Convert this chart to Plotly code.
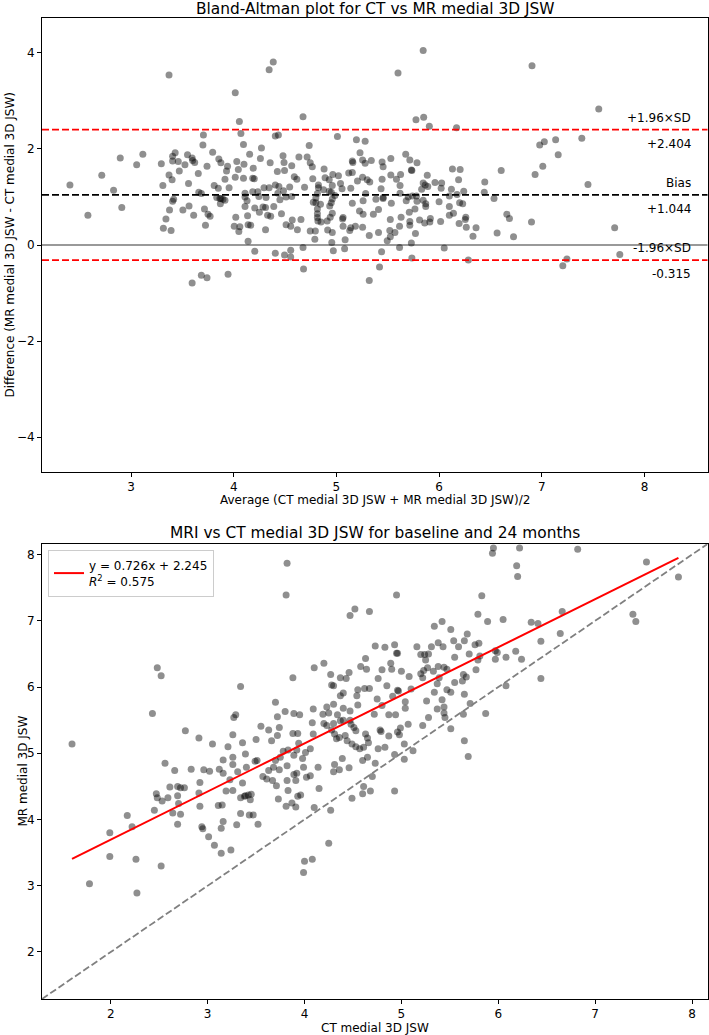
import numpy as np
import plotly.graph_objects as go

# ---------------- data ----------------
# CT and MR medial 3D JSW per knee (same measurements feed both panels)
ct_a = [3.82,3.81,2.48,2.52,3.34,2.43,1.60,4.10,3.88,3.70,
        4.09,3.29,3.27,3.72,3.80,3.89,3.95,4.08,2.77,2.91,
        3.05,3.26,3.36,3.21,3.50,3.55,3.63,3.66,3.74,3.72,
        3.88,3.93,3.94,3.92,4.09,3.39,3.26,3.16,3.78,3.83,
        3.89,4.01,4.06,3.51,3.70,3.75,3.98,2.56,2.66,2.83,
        2.96,3.02,3.12,3.16,3.26,3.31,3.40,3.49,3.57,3.63,
        3.68,3.74,3.82,3.89,3.92,3.99,4.14,4.06,2.92,2.61,
        2.69,2.72,2.76,3.23,3.19,3.26,3.36,3.38,3.42,3.45,
        3.61,3.67,3.71,3.82,3.91,3.83,4.02,4.15,2.47,2.48,
        2.53,2.59,2.69,2.70,2.91,2.92,3.11,3.15,3.34,3.39,
        3.44,3.73,3.81,3.87,3.91,3.93,3.96,4.10,2.45,2.64,
        2.72,2.17,2.69,3.34,3.43,3.47,3.52,3.30,3.16,2.94,
        2.95,1.99,2.22,3.01,3.14,3.07,3.24,3.14,1.99,2.26,
        4.00,4.08,3.99,2.52,1.78,2.27]
mr_a = [7.87,7.39,6.29,6.17,6.01,5.60,5.14,6.29,6.14,5.77,
        5.67,5.58,5.54,5.55,5.63,5.60,5.58,5.46,5.34,5.23,
        5.14,5.28,5.16,5.10,5.21,5.41,5.35,5.19,5.39,5.27,
        5.30,5.30,5.15,5.05,5.29,4.99,4.94,4.90,5.03,5.05,
        4.97,5.01,5.07,4.89,4.89,4.94,4.92,4.85,4.74,4.76,
        4.75,4.73,4.76,4.70,4.83,4.72,4.79,4.88,4.65,4.74,
        4.79,4.75,4.81,4.68,4.70,4.79,4.79,4.66,4.56,4.49,
        4.50,4.48,4.48,4.60,4.43,4.44,4.55,4.35,4.37,4.38,
        4.61,4.59,4.51,4.59,4.59,4.44,4.64,4.47,4.39,4.33,
        4.28,4.33,4.36,4.24,4.40,4.20,4.21,4.22,4.33,4.36,
        4.30,4.31,4.20,4.25,4.19,4.35,4.37,4.18,4.14,4.10,
        4.08,4.06,3.93,4.09,4.07,4.07,3.93,3.92,3.97,3.89,
        3.86,3.80,3.89,3.74,3.87,3.61,3.54,3.49,3.44,3.40,
        3.37,3.40,3.20,3.30,3.03,2.89]

ct_b = [4.95,4.52,4.47,4.67,5.34,5.42,5.51,5.54,5.59,5.38,
        5.31,5.43,4.73,4.83,4.93,5.16,4.95,4.96,5.20,5.24,
        5.25,5.28,4.63,4.20,4.58,4.64,4.80,4.89,4.90,5.00,
        5.23,5.27,5.33,5.38,5.47,5.44,5.55,4.27,4.37,4.43,
        4.46,5.08,4.76,4.28,4.30,4.40,4.37,4.55,4.62,4.67,
        4.85,4.96,4.97,5.10,5.20,5.22,5.39,5.37,5.47,5.51,
        5.55,4.54,4.75,4.91,5.04,5.04,5.26,5.34,5.42,5.44,
        5.44,5.45,4.47,4.40,4.30,4.23,4.55,4.80,4.87,4.94,
        4.72,5.37,5.28,5.22,4.19,4.25,4.34,4.20,4.23,4.30,
        4.37,4.40,4.47,4.48,4.51,4.53,4.28,4.31,4.33,4.36,
        4.42,4.44,4.49,4.53,4.57,4.61,4.63,4.65,4.66,4.78,
        4.79,4.87,4.96,4.99,4.98,5.07,5.03,5.12,4.93,5.03,
        4.76,4.83,4.73,4.65,4.60,4.39,4.31,4.30,4.36,4.46,
        4.70,4.61,4.60,4.68,4.49,4.93,4.27,4.25]
mr_b = [7.39,7.18,7.08,7.14,6.92,6.99,6.87,6.70,6.61,6.67,
        6.61,6.61,6.62,6.60,6.64,6.61,6.51,6.51,6.49,6.49,
        6.41,6.50,6.43,6.36,6.31,6.27,6.26,6.36,6.27,6.24,
        6.25,6.29,6.24,6.31,6.27,6.30,6.45,6.19,6.14,6.13,
        6.22,6.16,6.13,6.03,6.02,5.91,5.87,5.96,5.98,5.98,
        6.02,5.95,5.94,5.97,6.20,6.14,6.14,6.05,5.96,5.92,
        6.07,5.87,5.82,5.86,5.78,5.68,5.79,5.92,5.81,5.70,
        5.61,5.54,5.64,5.68,5.74,5.70,5.73,5.72,5.58,5.58,
        5.59,5.67,5.54,5.42,5.59,5.61,5.58,5.45,5.42,5.45,
        5.49,5.50,5.50,5.44,5.39,5.34,5.35,5.29,5.22,5.24,
        5.27,5.19,5.14,5.10,5.07,5.09,5.29,5.23,5.16,5.35,
        5.33,5.26,5.32,5.38,5.28,5.44,5.14,5.04,4.98,4.91,
        5.07,5.09,4.85,4.94,4.89,4.92,4.83,4.72,4.75,4.78,
        4.65,4.50,4.39,4.43,4.32,4.43,4.14,3.64]

ct_c = [5.95,5.94,6.22,6.82,6.19,6.20,7.53,7.86,5.83,5.79,
        5.89,6.05,6.34,6.41,6.66,7.39,7.42,5.68,5.65,5.76,
        5.80,5.70,5.81,5.79,5.97,5.99,5.97,6.08,6.18,6.24,
        6.44,6.64,5.77,5.64,5.67,5.63,5.65,5.71,5.64,5.87,
        6.08,6.44,5.65,5.69,5.51,5.04,6.14,6.28,6.04]
mr_c = [8.10,8.02,8.10,8.08,7.83,7.67,7.89,7.66,7.38,7.10,
        6.99,7.02,6.98,6.96,7.14,7.10,6.99,6.80,6.70,6.64,
        6.66,6.50,6.47,6.41,6.55,6.52,6.42,6.45,6.54,6.42,
        6.69,6.81,6.26,6.19,6.15,6.09,5.89,5.75,5.59,5.60,
        6.02,6.13,5.19,4.95,5.37,8.77,8.97,8.50,8.23]

# summary values printed on the chart
bias = 1.044
loa_upper = 2.404
loa_lower = -0.315
slope = 0.726
intercept = 2.245
r_squared = 0.575

top_x_ticks = [3, 4, 5, 6, 7, 8]
top_y_ticks = [-4, -2, 0, 2, 4]
bot_ticks = [2, 3, 4, 5, 6, 7, 8]
top_x_range = [2.133, 8.614]
top_y_range = [-4.72, 4.72]
bot_range = [1.29, 8.16]

# ---------------- derived ----------------
ct = np.array(ct_a + ct_b + ct_c)
mr = np.array(mr_a + mr_b + mr_c)
avg = (ct + mr) / 2.0
diff = mr - ct

W, H = 709, 1035
FONT = "DejaVu Sans"
dom_x = [42 / W, 707.5 / W]
dom_y_top = [1 - 471.7 / H, 1 - 18.3 / H]
dom_y_bot = [1 - 999 / H, 1 - 544 / H]

marker = dict(size=7, color="rgba(0,0,0,0.44)", line=dict(width=0))

fig = go.Figure()

# top: Bland-Altman
fig.add_trace(go.Scatter(x=avg, y=diff, mode="markers", marker=marker,
                         xaxis="x", yaxis="y", showlegend=False, hoverinfo="skip"))

# bottom: MR vs CT
fig.add_trace(go.Scatter(x=ct, y=mr, mode="markers", marker=marker,
                         xaxis="x2", yaxis="y2", showlegend=False, hoverinfo="skip"))
fig.add_trace(go.Scatter(x=bot_range, y=bot_range, mode="lines",
                         line=dict(color="gray", width=1.8, dash="7px,3px"),
                         xaxis="x2", yaxis="y2", showlegend=False, hoverinfo="skip"))
fx = np.array([ct.min(), ct.max()])
fig.add_trace(go.Scatter(x=fx, y=slope * fx + intercept, mode="lines",
                         line=dict(color="red", width=2),
                         name=f"y = {slope:.3f}x + {intercept:.3f}<br><i>R</i><sup>2</sup> = {r_squared:.3f}",
                         xaxis="x2", yaxis="y2", showlegend=True, hoverinfo="skip"))

# horizontal reference lines (top panel)
shapes = [
    dict(type="line", xref="x domain", yref="y", x0=0, x1=1, y0=0, y1=0,
         line=dict(color="rgba(0,0,0,0.8)", width=1)),
    dict(type="line", xref="x domain", yref="y", x0=0, x1=1, y0=bias, y1=bias,
         line=dict(color="black", width=1.8, dash="7px,3px")),
    dict(type="line", xref="x domain", yref="y", x0=0, x1=1, y0=loa_upper, y1=loa_upper,
         line=dict(color="red", width=1.8, dash="7px,3px")),
    dict(type="line", xref="x domain", yref="y", x0=0, x1=1, y0=loa_lower, y1=loa_lower,
         line=dict(color="red", width=1.8, dash="7px,3px")),
]

def lab(text, yval, shift):
    return dict(text=text, xref="x domain", yref="y", x=0.978, y=yval,
                xanchor="right", yanchor="middle", yshift=shift, showarrow=False,
                font=dict(family=FONT, size=12, color="black"))

TITLE_SIZE = 15.4
annotations = [
    lab("+1.96×SD", loa_upper, 12), lab(f"+{loa_upper:.3f}", loa_upper, -14),
    lab("Bias", bias, 12), lab(f"+{bias:.3f}", bias, -14),
    lab("-1.96×SD", loa_lower, 12), lab(f"{loa_lower:.3f}", loa_lower, -14),
    dict(text="Bland-Altman plot for CT vs MR medial 3D JSW", xref="paper", yref="paper",
         x=(dom_x[0] + dom_x[1]) / 2, y=1 - 9.5 / H, xanchor="center", yanchor="middle",
         showarrow=False, font=dict(family=FONT, size=TITLE_SIZE, color="black")),
    dict(text="MRI vs CT medial 3D JSW for baseline and 24 months", xref="paper", yref="paper",
         x=(dom_x[0] + dom_x[1]) / 2, y=1 - 533 / H, xanchor="center", yanchor="middle",
         showarrow=False, font=dict(family=FONT, size=TITLE_SIZE, color="black")),
    dict(text="Average (CT medial 3D JSW + MR medial 3D JSW)/2", xref="paper", yref="paper",
         x=(dom_x[0] + dom_x[1]) / 2, y=1 - 500 / H, xanchor="center", yanchor="middle",
         showarrow=False, font=dict(family=FONT, size=12, color="black")),
    dict(text="Difference (MR medial 3D JSW - CT medial 3D JSW)", xref="paper", yref="paper",
         x=9.5 / W, y=1 - 245 / H, xanchor="center", yanchor="middle", textangle=-90,
         showarrow=False, font=dict(family=FONT, size=12, color="black")),
    dict(text="CT medial 3D JSW", xref="paper", yref="paper",
         x=(dom_x[0] + dom_x[1]) / 2, y=1 - 1027.5 / H, xanchor="center", yanchor="middle",
         showarrow=False, font=dict(family=FONT, size=12, color="black")),
    dict(text="MR medial 3D JSW", xref="paper", yref="paper",
         x=22 / W, y=1 - 771.5 / H, xanchor="center", yanchor="middle", textangle=-90,
         showarrow=False, font=dict(family=FONT, size=12, color="black")),
]

ax_common = dict(showline=True, linecolor="black", linewidth=1, mirror=True,
                 ticks="outside", ticklen=4, tickwidth=1, tickcolor="black",
                 showgrid=False, zeroline=False, automargin=False,
                 tickfont=dict(family=FONT, size=12, color="black"))

fig.update_layout(
    width=W, height=H,
    margin=dict(l=0, r=0, t=0, b=0, autoexpand=False),
    paper_bgcolor="white", plot_bgcolor="white",
    font=dict(family=FONT, size=12, color="black"),
    xaxis=dict(domain=dom_x, range=top_x_range, tickvals=top_x_ticks, anchor="y", **ax_common),
    yaxis=dict(domain=dom_y_top, range=top_y_range, tickvals=top_y_ticks, anchor="x", **ax_common),
    xaxis2=dict(domain=dom_x, range=bot_range, tickvals=bot_ticks, anchor="y2", **ax_common),
    yaxis2=dict(domain=dom_y_bot, range=bot_range, tickvals=bot_ticks, anchor="x2", **ax_common),
    shapes=shapes,
    annotations=annotations,
    legend=dict(x=48 / W, y=1 - 550 / H, xanchor="left", yanchor="top",
                bgcolor="rgba(255,255,255,0.8)", bordercolor="#cccccc", borderwidth=1,
                itemwidth=30,
                font=dict(family=FONT, size=12, color="black"), tracegroupgap=0),
    showlegend=True,
)

# remove the browser's default 8px page margin so the figure sits at the window origin
fig.write_html("out.html", config={"displayModeBar": False},
               post_script="document.body.style.margin='0px';")
